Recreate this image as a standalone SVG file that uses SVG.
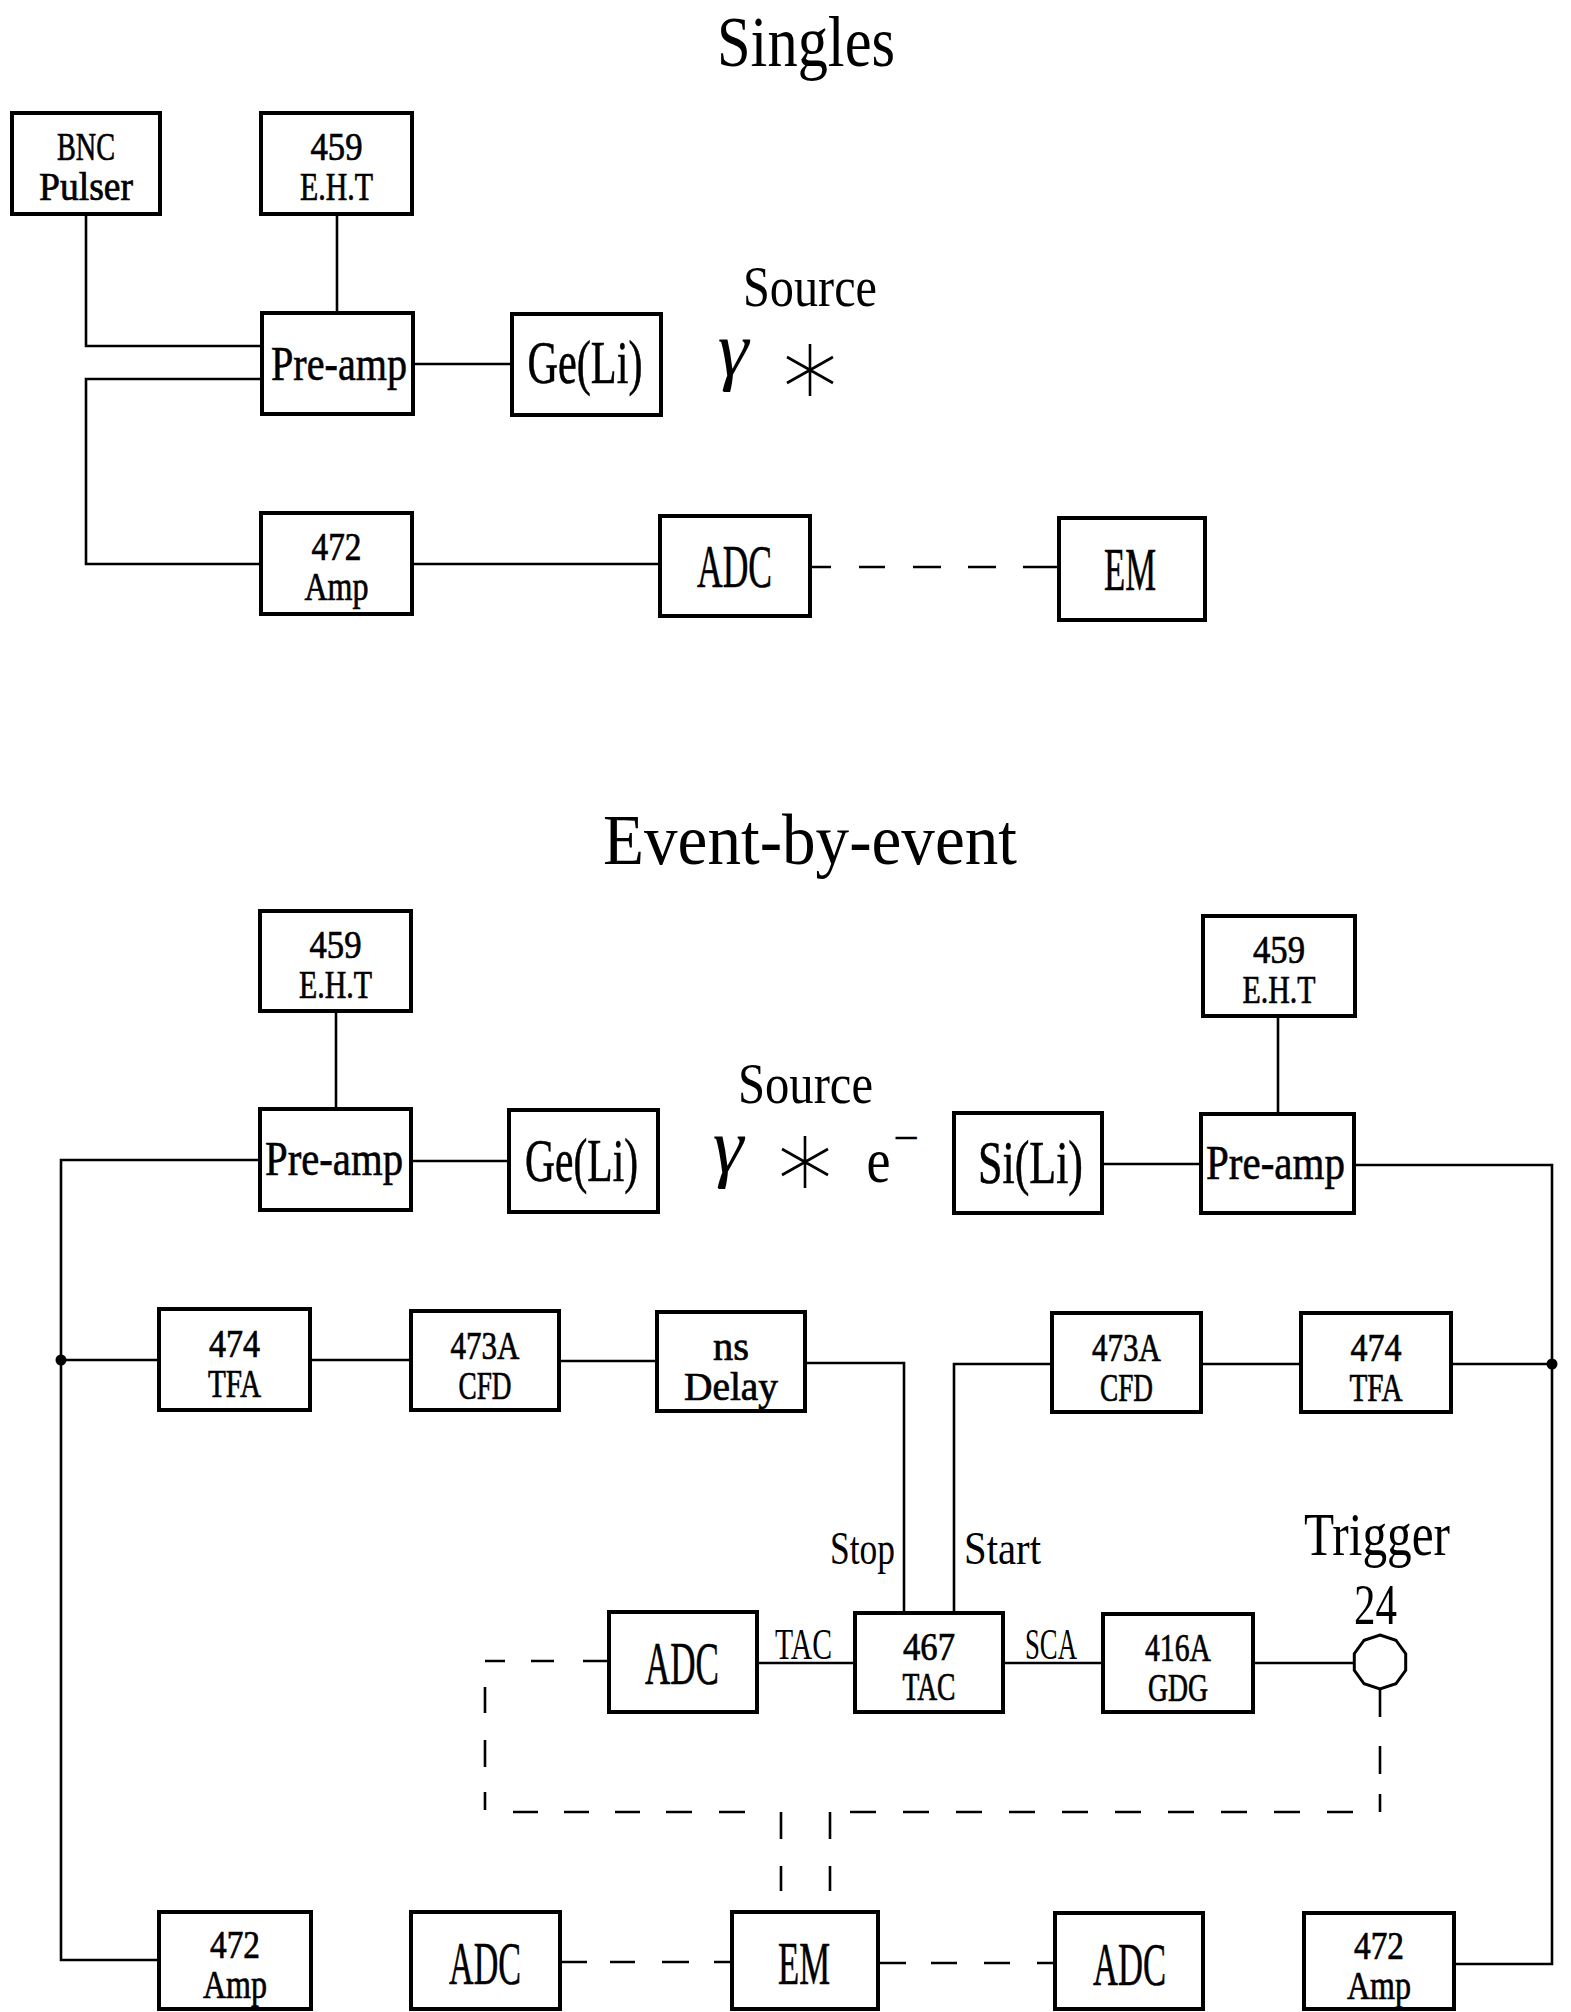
<svg xmlns="http://www.w3.org/2000/svg" width="1571" height="2012" viewBox="0 0 1571 2012">
<style>
.box{fill:none;stroke:#000;stroke-width:4}
.w{fill:none;stroke:#000;stroke-width:2.6}
text{font-family:"Liberation Serif","DejaVu Serif",serif;fill:#000;text-anchor:middle}
.s2{font-size:39px;stroke:#000;stroke-width:0.7}
.s1{font-size:62px;stroke:#000;stroke-width:0.6}
.pa{font-size:48px;stroke:#000;stroke-width:0.6}
.lb{font-size:46px}
.ti{font-size:72px}
.src{font-size:56px}
.gr{font-size:78px;font-style:italic}
</style>
<rect width="1571" height="2012" fill="#fff"/>
<text class="ti" x="806" y="66" textLength="178" lengthAdjust="spacingAndGlyphs">Singles</text>
<text class="ti" x="810" y="864" textLength="414" lengthAdjust="spacingAndGlyphs">Event-by-event</text>
<g id="connectors">
<path class="w" d="M86 214V346H262"/>
<path class="w" d="M262 379H86V564H261"/>
<path class="w" d="M337 214V313"/>
<path class="w" d="M413 364H512"/>
<path class="w" d="M412 564H660"/>
<path class="w" d="M810 567H1059" stroke-dasharray="21 28 26 28 28 27 28 27 36 0"/>
<path class="w" d="M336 1011V1109"/>
<path class="w" d="M1278 1016V1114"/>
<path class="w" d="M260 1160H61V1960H159"/>
<path class="w" d="M61 1360H159"/>
<path class="w" d="M310 1360H411"/>
<path class="w" d="M559 1361H657"/>
<path class="w" d="M805 1363H904V1613"/>
<path class="w" d="M411 1161H509"/>
<path class="w" d="M1102 1164H1201"/>
<path class="w" d="M1354 1165H1552V1964H1454"/>
<path class="w" d="M1552 1364H1451"/>
<path class="w" d="M1301 1364H1201"/>
<path class="w" d="M1052 1364H954V1613"/>
<path class="w" d="M757 1663H855"/>
<path class="w" d="M1003 1663H1103"/>
<path class="w" d="M1253 1663H1354"/>
<path class="w" d="M609 1661H485V1812H781V1912" stroke-dasharray="26 29 23 26 20 26 26 27 27 25 18 30 25 26 25 26 25 26 26 27 26 36 27 27 25 21"/>
<path class="w" d="M1380 1689V1812H830V1912" stroke-dasharray="28 29 28 20 18 27 26 27 26 27 26 27 26 27 26 27 26 27 26 27 26 27 26 27 26 20 27 27 25 21"/>
<path class="w" d="M560 1962H732" stroke-dasharray="27 23 25 27 27 25 18 10"/>
<path class="w" d="M878 1963H1055" stroke-dasharray="28 25 26 27 26 27 18 10"/>
<circle cx="61" cy="1360" r="5.5"/>
<circle cx="1552" cy="1364" r="5.5"/>
</g>
<g id="singles-bnc"><rect class="box" x="12" y="113" width="148" height="101"/><text class="s2"><tspan x="86" y="160" textLength="58" lengthAdjust="spacingAndGlyphs">BNC</tspan><tspan x="86" y="200" textLength="94" lengthAdjust="spacingAndGlyphs">Pulser</tspan></text></g>
<g id="singles-eht"><rect class="box" x="261" y="113" width="151" height="101"/><text class="s2"><tspan x="336.5" y="160" textLength="52" lengthAdjust="spacingAndGlyphs">459</tspan><tspan x="336.5" y="200" textLength="73" lengthAdjust="spacingAndGlyphs">E.H.T</tspan></text></g>
<g id="singles-preamp"><rect class="box" x="262" y="313" width="151" height="101"/><text class="pa" x="339" y="380" textLength="136" lengthAdjust="spacingAndGlyphs">Pre-amp</text></g>
<g id="singles-geli"><rect class="box" x="512" y="314" width="149" height="101"/><text class="s1" x="585" y="383" textLength="115" lengthAdjust="spacingAndGlyphs">Ge(Li)</text></g>
<g id="singles-source"><text class="src" x="810" y="306" textLength="134" lengthAdjust="spacingAndGlyphs">Source</text><text class="gr" x="733" y="375">γ</text><path class="w" d="M810 344V396M787 357L833 383M787 383L833 357"/></g>
<g id="singles-amp"><rect class="box" x="261" y="513" width="151" height="101"/><text class="s2"><tspan x="336.5" y="560" textLength="50" lengthAdjust="spacingAndGlyphs">472</tspan><tspan x="336.5" y="600" textLength="64" lengthAdjust="spacingAndGlyphs">Amp</tspan></text></g>
<g id="singles-adc"><rect class="box" x="660" y="516" width="150" height="100"/><text class="s1" x="734.5" y="587" textLength="75" lengthAdjust="spacingAndGlyphs">ADC</text></g>
<g id="singles-em"><rect class="box" x="1059" y="518" width="146" height="102"/><text class="s1" x="1130" y="590" textLength="52" lengthAdjust="spacingAndGlyphs">EM</text></g>
<g id="eht-left"><rect class="box" x="260" y="911" width="151" height="100"/><text class="s2"><tspan x="335.5" y="958" textLength="52" lengthAdjust="spacingAndGlyphs">459</tspan><tspan x="335.5" y="998" textLength="73" lengthAdjust="spacingAndGlyphs">E.H.T</tspan></text></g>
<g id="eht-right"><rect class="box" x="1203" y="916" width="152" height="100"/><text class="s2"><tspan x="1279" y="963" textLength="52" lengthAdjust="spacingAndGlyphs">459</tspan><tspan x="1279" y="1003" textLength="73" lengthAdjust="spacingAndGlyphs">E.H.T</tspan></text></g>
<g id="preamp-left"><rect class="box" x="260" y="1109" width="151" height="101"/><text class="pa" x="334" y="1175" textLength="138" lengthAdjust="spacingAndGlyphs">Pre-amp</text></g>
<g id="geli"><rect class="box" x="509" y="1110" width="149" height="102"/><text class="s1" x="581.5" y="1181" textLength="113" lengthAdjust="spacingAndGlyphs">Ge(Li)</text></g>
<g id="source"><text class="src" x="805.5" y="1103" textLength="135" lengthAdjust="spacingAndGlyphs">Source</text><text class="gr" x="728" y="1172">γ</text><path class="w" d="M805 1136V1188M782 1149L828 1175M782 1175L828 1149"/><text style="font-size:64px"><tspan x="878.5" y="1182" textLength="24" lengthAdjust="spacingAndGlyphs">e</tspan><tspan x="906" y="1154" style="font-size:48px" textLength="26" lengthAdjust="spacingAndGlyphs">−</tspan></text></g>
<g id="sili"><rect class="box" x="954" y="1113" width="148" height="100"/><text class="s1" x="1030.5" y="1183" textLength="105" lengthAdjust="spacingAndGlyphs">Si(Li)</text></g>
<g id="preamp-right"><rect class="box" x="1201" y="1114" width="153" height="99"/><text class="pa" x="1275.5" y="1179" textLength="139" lengthAdjust="spacingAndGlyphs">Pre-amp</text></g>
<g id="tfa-left"><rect class="box" x="159" y="1309" width="151" height="101"/><text class="s2"><tspan x="234.5" y="1357" textLength="51" lengthAdjust="spacingAndGlyphs">474</tspan><tspan x="234.5" y="1397" textLength="53" lengthAdjust="spacingAndGlyphs">TFA</tspan></text></g>
<g id="cfd-left"><rect class="box" x="411" y="1311" width="148" height="99"/><text class="s2"><tspan x="485" y="1359" textLength="69" lengthAdjust="spacingAndGlyphs">473A</tspan><tspan x="485" y="1399" textLength="53" lengthAdjust="spacingAndGlyphs">CFD</tspan></text></g>
<g id="ns-delay"><rect class="box" x="657" y="1312" width="148" height="99"/><text class="s2"><tspan x="731" y="1360" textLength="36" lengthAdjust="spacingAndGlyphs">ns</tspan><tspan x="731" y="1400" textLength="94" lengthAdjust="spacingAndGlyphs">Delay</tspan></text></g>
<g id="cfd-right"><rect class="box" x="1052" y="1313" width="149" height="99"/><text class="s2"><tspan x="1126.5" y="1361" textLength="69" lengthAdjust="spacingAndGlyphs">473A</tspan><tspan x="1126.5" y="1401" textLength="53" lengthAdjust="spacingAndGlyphs">CFD</tspan></text></g>
<g id="tfa-right"><rect class="box" x="1301" y="1313" width="150" height="99"/><text class="s2"><tspan x="1376" y="1361" textLength="51" lengthAdjust="spacingAndGlyphs">474</tspan><tspan x="1376" y="1401" textLength="53" lengthAdjust="spacingAndGlyphs">TFA</tspan></text></g>
<g id="labels"><text class="lb" x="862.5" y="1564" textLength="65" lengthAdjust="spacingAndGlyphs">Stop</text><text class="lb" x="1002.5" y="1564" textLength="77" lengthAdjust="spacingAndGlyphs">Start</text><text style="font-size:44px" x="803.5" y="1659" textLength="57" lengthAdjust="spacingAndGlyphs">TAC</text><text style="font-size:44px" x="1051" y="1659" textLength="52" lengthAdjust="spacingAndGlyphs">SCA</text></g>
<g id="adc-mid"><rect class="box" x="609" y="1612" width="148" height="100"/><text class="s1" x="682" y="1684" textLength="74" lengthAdjust="spacingAndGlyphs">ADC</text></g>
<g id="tac"><rect class="box" x="855" y="1613" width="148" height="99"/><text class="s2"><tspan x="929" y="1660" textLength="52" lengthAdjust="spacingAndGlyphs">467</tspan><tspan x="929" y="1700" textLength="53" lengthAdjust="spacingAndGlyphs">TAC</tspan></text></g>
<g id="gdg"><rect class="box" x="1103" y="1614" width="150" height="98"/><text class="s2"><tspan x="1178" y="1661" textLength="66" lengthAdjust="spacingAndGlyphs">416A</tspan><tspan x="1178" y="1701" textLength="60" lengthAdjust="spacingAndGlyphs">GDG</tspan></text></g>
<g id="trigger"><text style="font-size:62px"><tspan x="1377" y="1555" textLength="146" lengthAdjust="spacingAndGlyphs">Trigger</tspan><tspan x="1375.5" y="1624" style="font-size:58px" textLength="43" lengthAdjust="spacingAndGlyphs">24</tspan></text><polygon fill="none" stroke="#000" stroke-width="3" points="1380,1635 1395.9,1640.2 1405.7,1653.7 1405.7,1670.3 1395.9,1683.8 1380,1689 1364.1,1683.8 1354.3,1670.3 1354.3,1653.7 1364.1,1640.2"/></g>
<g id="amp-left"><rect class="box" x="159" y="1912" width="152" height="97"/><text class="s2"><tspan x="235" y="1958" textLength="50" lengthAdjust="spacingAndGlyphs">472</tspan><tspan x="235" y="1998" textLength="64" lengthAdjust="spacingAndGlyphs">Amp</tspan></text></g>
<g id="adc-bl"><rect class="box" x="411" y="1912" width="149" height="97"/><text class="s1" x="485" y="1984" textLength="72" lengthAdjust="spacingAndGlyphs">ADC</text></g>
<g id="em"><rect class="box" x="732" y="1912" width="146" height="97"/><text class="s1" x="804" y="1984" textLength="52" lengthAdjust="spacingAndGlyphs">EM</text></g>
<g id="adc-br"><rect class="box" x="1055" y="1913" width="148" height="96"/><text class="s1" x="1129.5" y="1985" textLength="73" lengthAdjust="spacingAndGlyphs">ADC</text></g>
<g id="amp-right"><rect class="box" x="1304" y="1913" width="150" height="96"/><text class="s2"><tspan x="1379" y="1959" textLength="50" lengthAdjust="spacingAndGlyphs">472</tspan><tspan x="1379" y="1999" textLength="64" lengthAdjust="spacingAndGlyphs">Amp</tspan></text></g>
</svg>
